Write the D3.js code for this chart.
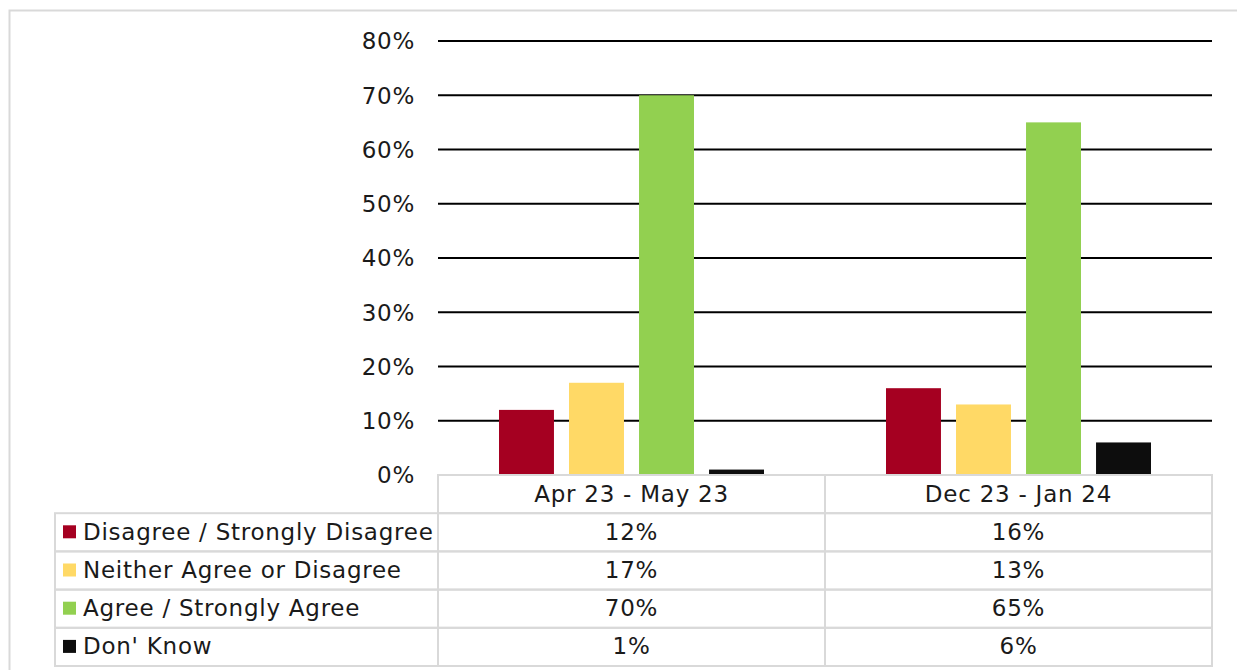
<!DOCTYPE html>
<html>
<head>
<meta charset="utf-8">
<script src="https://cdn.jsdelivr.net/npm/d3@7.9.0/dist/d3.min.js"></script>
<style>
  body { margin: 0; background: #fff; }
  svg text { font-family: "DejaVu Sans", Verdana, sans-serif; fill: #1a1a1a; letter-spacing: 0.75px; }
</style>
</head>
<body>
<svg id="chart" width="1237" height="670"></svg>
<script>
const periods = ['Apr 23 - May 23', 'Dec 23 - Jan 24'];
const responses = ['Disagree / Strongly Disagree', 'Neither Agree or Disagree', 'Agree / Strongly Agree', "Don' Know"];
const colours = ['#A50021', '#FFD966', '#92D050', '#0D0D0D'];
// values in %, one array per response, ordered like periods
const disagree = [12, 16];
const neither = [17, 13];
const agree = [70, 65];
const dontKnow = [1, 6];
const yTicks = [0, 10, 20, 30, 40, 50, 60, 70, 80];

const seriesValues = [disagree, neither, agree, dontKnow];

const svg = d3.select('#chart');
const fontSize = 23;

// outer frame
svg.append('rect')
    .attr('x', 9.5).attr('y', 10.5)
    .attr('width', 1240).attr('height', 680)
    .attr('fill', 'none').attr('stroke', '#d9d9d9').attr('stroke-width', 2);

const plotLeft = 438, plotRight = 1212, plotTop = 41, plotBottom = 475;

const x = d3.scaleBand().domain(periods).range([plotLeft, plotRight]);
const inner = d3.scaleBand().domain(d3.range(responses.length))
    .range([61, x.bandwidth() - 61]).paddingInner(0.215);
const y = d3.scaleLinear().domain([0, 80]).range([plotBottom, plotTop]);

// gridlines
svg.append('g').selectAll('line')
    .data(yTicks.filter(t => t > 0))
    .join('line')
    .attr('x1', plotLeft).attr('x2', plotRight)
    .attr('y1', d => y(d)).attr('y2', d => y(d))
    .attr('stroke', '#000').attr('stroke-width', 2);

// y labels
svg.append('g').selectAll('text')
    .data(yTicks)
    .join('text')
    .attr('x', 415).attr('y', d => y(d))
    .attr('dy', '0.36em')
    .attr('text-anchor', 'end')
    .attr('font-size', fontSize)
    .text(d => d + '%');

// bars
seriesValues.forEach((vals, si) => {
    svg.append('g').selectAll('rect')
        .data(periods.map((p, i) => ({ p, v: vals[i] })))
        .join('rect')
        .attr('x', d => x(d.p) + inner(si))
        .attr('width', inner.bandwidth())
        .attr('y', d => y(d.v))
        .attr('height', d => y(0) - y(d.v))
        .attr('fill', colours[si]);
});

// data table
const rowH = 38.2;
const tableLeft = 55;
const grid = '#d9d9d9';
const tbl = svg.append('g').attr('stroke', grid).attr('stroke-width', 2).attr('fill', 'none');

// header row (categories)
tbl.append('rect').attr('x', plotLeft).attr('y', plotBottom)
    .attr('width', plotRight - plotLeft).attr('height', rowH);
// body rows
responses.forEach((r, i) => {
    tbl.append('rect').attr('x', tableLeft).attr('y', plotBottom + rowH * (i + 1))
        .attr('width', plotRight - tableLeft).attr('height', rowH);
});
// vertical dividers
periods.forEach(p => {
    tbl.append('line')
        .attr('x1', x(p)).attr('x2', x(p))
        .attr('y1', plotBottom).attr('y2', plotBottom + rowH * (responses.length + 1));
});

// header labels
svg.append('g').selectAll('text')
    .data(periods)
    .join('text')
    .attr('x', d => x(d) + x.bandwidth() / 2)
    .attr('y', plotBottom + rowH / 2)
    .attr('dy', '0.36em')
    .attr('text-anchor', 'middle')
    .attr('font-size', fontSize)
    .text(d => d);

responses.forEach((r, i) => {
    const cy = plotBottom + rowH * (i + 1) + rowH / 2;
    svg.append('rect')
        .attr('x', 63).attr('y', cy - 7)
        .attr('width', 13).attr('height', 13)
        .attr('fill', colours[i]);
    svg.append('text')
        .attr('x', 83).attr('y', cy - 1)
        .attr('dy', '0.36em')
        .attr('font-size', fontSize)
        .text(r);
    periods.forEach((p, j) => {
        svg.append('text')
            .attr('x', x(p) + x.bandwidth() / 2).attr('y', cy - 1)
            .attr('dy', '0.36em')
            .attr('text-anchor', 'middle')
            .attr('font-size', fontSize)
            .text(seriesValues[i][j] + '%');
    });
});
</script>
</body>
</html>
